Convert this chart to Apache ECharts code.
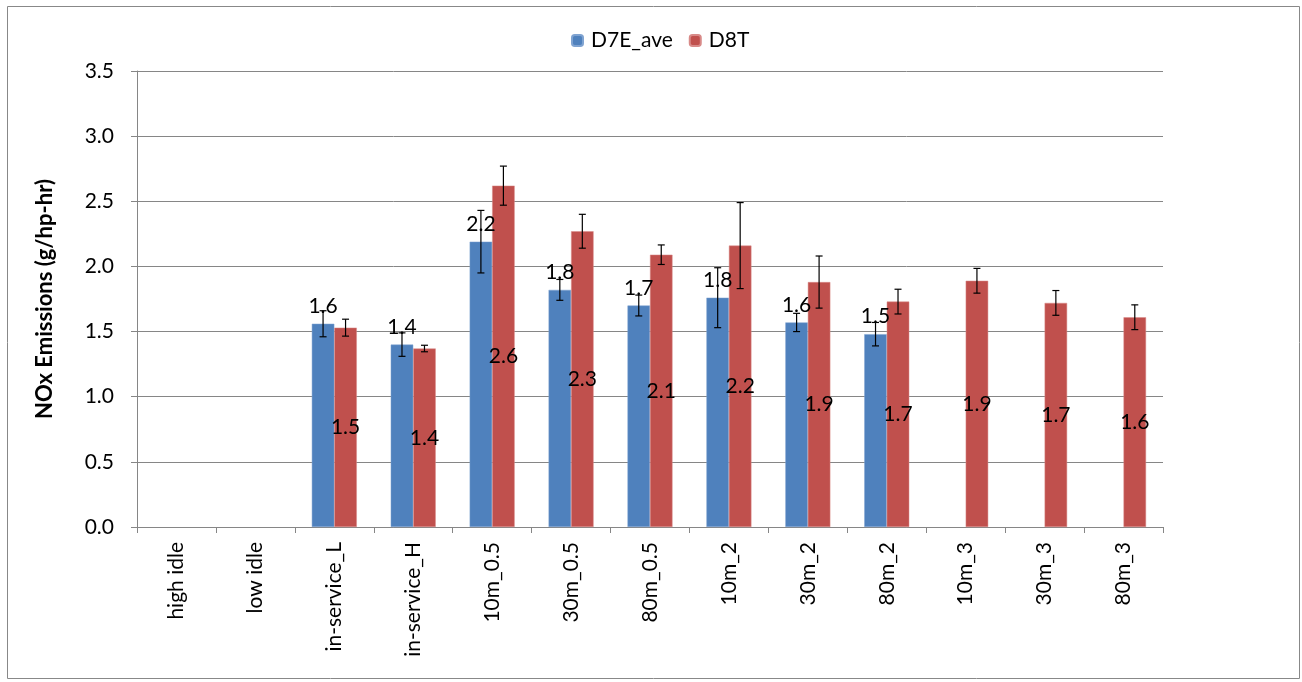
<!DOCTYPE html>
<html><head><meta charset="utf-8">
<script src="https://cdn.jsdelivr.net/npm/echarts@6/dist/echarts.min.js"></script>
<style>html,body{margin:0;padding:0;background:#fff}#c{width:1302px;height:682px}</style>
</head><body><div id="c"></div>
<script>
const categories = ['high idle','low idle','in-service_L','in-service_H','10m_0.5','30m_0.5','80m_0.5','10m_2','30m_2','80m_2','10m_3','30m_3','80m_3'];
const d7eAve = [null,null,1.56,1.40,2.19,1.82,1.70,1.76,1.57,1.48,null,null,null];
const d7eErr = [null,null,0.10,0.09,0.24,0.08,0.08,0.23,0.07,0.09,null,null,null];
const d8t    = [null,null,1.53,1.37,2.62,2.27,2.09,2.16,1.88,1.73,1.89,1.72,1.61];
const d8tErr = [null,null,0.065,0.025,0.15,0.13,0.075,0.33,0.20,0.095,0.095,0.095,0.095];
const yTicks = [0,0.5,1.0,1.5,2.0,2.5,3.0,3.5];

const FONT = 'Lato, "Open Sans", sans-serif';
const FS = 21;
const BAR_PCT = 0.285;
function errData(vals, errs){
  const out = [];
  vals.forEach((v,i)=>{ if(v!=null && errs[i]!=null) out.push([i, v, errs[i]]); });
  return out;
}
function errRender(sign){
  return function(params, api){
    const i = api.value(0), v = api.value(1), e = api.value(2);
    const band = api.size([1,0])[0];
    const off = sign * band * BAR_PCT / 2;
    const top = api.coord([i, v+e]);
    const bot = api.coord([i, v-e]);
    const x = top[0] + off;
    const cap = 3.5;
    const st = {stroke:'#000', lineWidth:1.2};
    return {type:'group', children:[
      {type:'line', shape:{x1:x,y1:top[1],x2:x,y2:bot[1]}, style:st},
      {type:'line', shape:{x1:x-cap,y1:top[1],x2:x+cap,y2:top[1]}, style:st},
      {type:'line', shape:{x1:x-cap,y1:bot[1],x2:x+cap,y2:bot[1]}, style:st}
    ]};
  };
}
const chart = echarts.init(document.getElementById('c'));
chart.setOption({
  animation:false,
  textStyle:{fontFamily:FONT},
  graphic:[{type:'rect', shape:{x:7.5,y:6.5,width:1292,height:672}, style:{fill:'none', stroke:'#888', lineWidth:1}, silent:true}],
  legend:{
    top:25, left:566, itemWidth:11, itemHeight:11, itemGap:16,
    textStyle:{fontSize:FS, color:'#000', fontFamily:FONT, padding:[0,0,0,3]},
    data:['D7E_ave','D8T']
  },
  grid:{left:137, right:139, top:71, bottom:155, containLabel:false},
  xAxis:{
    type:'category', data:categories,
    axisLine:{lineStyle:{color:'#868686'}},
    axisTick:{show:true, length:6, lineStyle:{color:'#868686'}},
    axisLabel:{rotate:90, fontSize:FS, color:'#000', margin:15, fontFamily:FONT, interval:0}
  },
  yAxis:{
    type:'value', min:yTicks[0], max:yTicks[yTicks.length-1], interval:0.5,
    name:'NOx Emissions (g/hp-hr)', nameLocation:'middle', nameGap:81, nameRotate:90,
    nameTextStyle:{fontSize:22, fontWeight:'bold', color:'#000', fontFamily:FONT},
    axisLine:{show:true, lineStyle:{color:'#868686'}},
    axisTick:{show:true, length:6, lineStyle:{color:'#868686'}},
    axisLabel:{fontSize:FS, color:'#000', margin:23, fontFamily:FONT, formatter:v=>v.toFixed(1)},
    splitLine:{lineStyle:{color:'#868686'}}
  },
  series:[
    {name:'D7E_ave', type:'bar', data:d7eAve, barWidth:(BAR_PCT*100)+'%', barGap:'0%',
     itemStyle:{color:'#4F81BD', borderColor:'#7FA3D1', borderWidth:0.5},
     label:{show:true, position:'top', distance:7, fontSize:FS, color:'#000', fontFamily:FONT, formatter:p=>p.value==null?'':p.value.toFixed(1)}},
    {name:'D8T', type:'bar', data:d8t, barWidth:(BAR_PCT*100)+'%', barGap:'0%',
     itemStyle:{color:'#C0504D', borderColor:'#D88A88', borderWidth:0.5},
     label:{show:true, position:'inside', fontSize:FS, color:'#000', fontFamily:FONT, formatter:p=>p.value==null?'':p.value.toFixed(1)}},
    {type:'custom', name:'errA', data:errData(d7eAve,d7eErr), renderItem:errRender(-1), encode:{x:0,y:1}, z:10, silent:true},
    {type:'custom', name:'errB', data:errData(d8t,d8tErr), renderItem:errRender(1), encode:{x:0,y:1}, z:10, silent:true}
  ]
});
</script></body></html>
